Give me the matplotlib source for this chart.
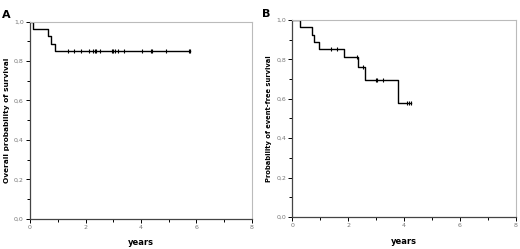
import matplotlib
matplotlib.use("Agg")
import matplotlib.pyplot as plt
from matplotlib.ticker import MultipleLocator, FuncFormatter

# Panel A - overall survival
os_times = [0, 0.12, 0.66, 0.74, 0.90, 5.75]
os_surv = [1.0, 0.963, 0.926, 0.889, 0.852, 0.852]
os_cens = [1.36, 1.59, 1.83, 2.13, 2.28, 2.33, 2.38, 2.52, 2.97, 3.00, 3.08,
           3.16, 3.39, 4.05, 4.36, 4.38, 4.89, 5.73, 5.75]

# Panel B - event-free survival
efs_times = [0, 0.28, 0.71, 0.78, 0.95, 1.84, 2.36, 2.62, 3.78, 4.24]
efs_surv = [1.0, 0.963, 0.926, 0.889, 0.852, 0.810, 0.763, 0.694, 0.577, 0.577]
efs_cens = [1.37, 1.61, 2.31, 2.55, 2.99, 3.03, 3.24, 4.10, 4.17, 4.24]

ylabels = ["Overall probability of survival", "Probability of event-free survival"]
panel_tags = ["A", "B"]


def km_value(times, surv, t):
    v = surv[0]
    for ti, si in zip(times, surv):
        if ti <= t:
            v = si
    return v


fig = plt.figure(figsize=(5.2, 2.49), dpi=100)
axA = fig.add_axes([0.0577, 0.1217, 0.4269, 0.7913])
axB = fig.add_axes([0.5621, 0.1285, 0.4296, 0.7912])

data = [(os_times, os_surv, os_cens), (efs_times, efs_surv, efs_cens)]
comma = FuncFormatter(lambda v, p: f"{v:.1f}".replace(".", ","))
intfmt = FuncFormatter(lambda v, p: f"{int(round(v))}")

for ax, (times, surv, cens), lab, fs in zip([axA, axB], data, ylabels, [5.3, 4.9]):
    ax.step(times, surv, where="post", color="black", lw=1.0)
    cy = [km_value(times, surv, c) for c in cens]
    ax.plot(cens, cy, ls="none", marker="|", ms=3.5, mew=0.8, color="black")
    ax.set_xlim(0, 8)
    ax.set_ylim(0, 1)
    ax.xaxis.set_major_locator(MultipleLocator(2))
    ax.xaxis.set_minor_locator(MultipleLocator(1))
    ax.yaxis.set_major_locator(MultipleLocator(0.2))
    ax.yaxis.set_minor_locator(MultipleLocator(0.1))
    ax.yaxis.set_major_formatter(comma)
    ax.xaxis.set_major_formatter(intfmt)
    ax.tick_params(which="both", direction="out", labelsize=4.5, labelcolor="#777777",
                   width=0.7, pad=1.5)
    ax.tick_params(which="major", length=3)
    ax.tick_params(which="minor", length=2)
    for s in ["top", "right"]:
        ax.spines[s].set_color("#bbbbbb")
        ax.spines[s].set_linewidth(0.8)
    for s in ["left", "bottom"]:
        ax.spines[s].set_color("#444444")
        ax.spines[s].set_linewidth(0.9)
    ax.set_ylabel(lab, fontsize=fs, fontweight="bold", labelpad=3)
    ax.set_xlabel("years", fontsize=6, fontweight="bold", labelpad=6)

fig.text(0.004, 0.96, panel_tags[0], fontsize=8, fontweight="bold", va="top")
fig.text(0.504, 0.965, panel_tags[1], fontsize=8, fontweight="bold", va="top")

fig.savefig("out.png", dpi=100)
